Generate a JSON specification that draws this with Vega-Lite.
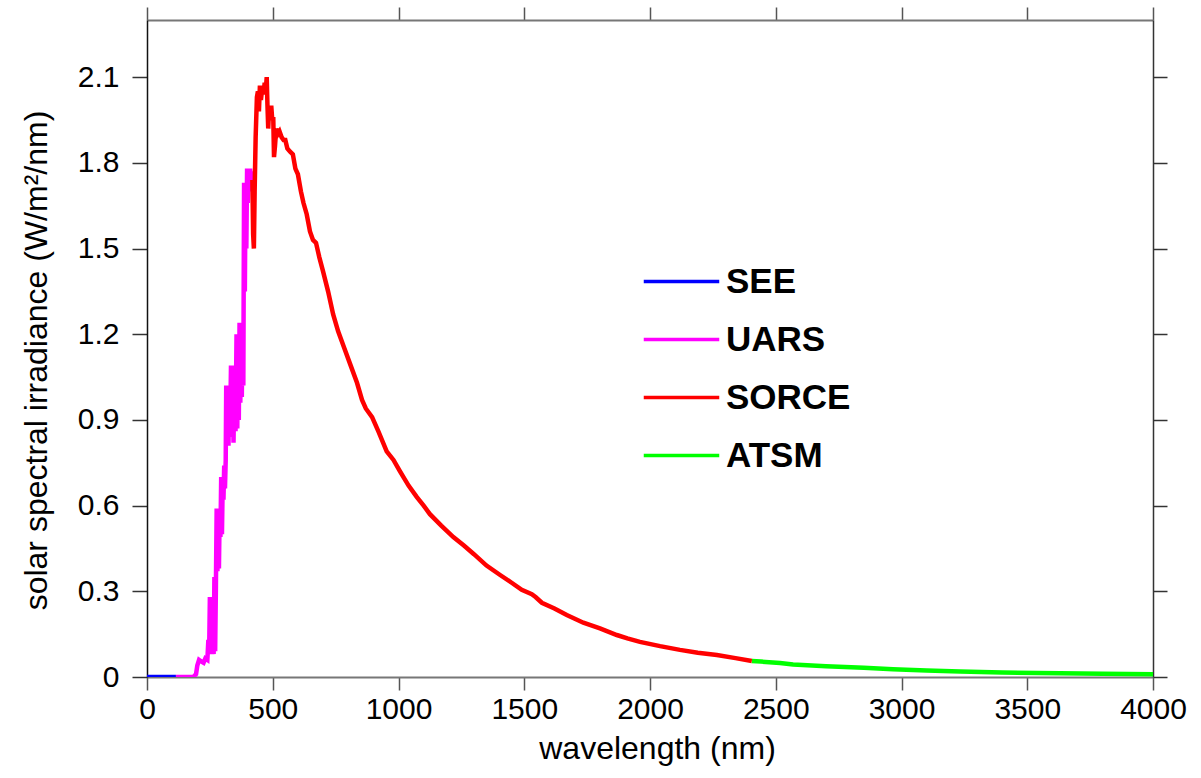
{
  "$schema": "https://vega.github.io/schema/vega-lite/v6.json",
  "autosize": {"type": "none"},
  "width": 1006,
  "height": 657,
  "padding": {"left": 147, "top": 20, "right": 48, "bottom": 101},
  "background": "white",
  "config": {"view": {"stroke": null}},
  "data": {"values": [
    {"w": 0, "v": 0.0, "s": "SEE"}, {"w": 50, "v": 0.0, "s": "SEE"}, {"w": 115, "v": 0.0, "s": "SEE"},
    {"w": 115, "v": 0.0, "s": "UARS"}, {"w": 150, "v": 0.0, "s": "UARS"}, {"w": 185, "v": 0.001, "s": "UARS"}, {"w": 195, "v": 0.01, "s": "UARS"}, {"w": 200, "v": 0.04, "s": "UARS"}, {"w": 207, "v": 0.06, "s": "UARS"}, {"w": 215, "v": 0.055, "s": "UARS"}, {"w": 225, "v": 0.05, "s": "UARS"}, {"w": 232, "v": 0.065, "s": "UARS"}, {"w": 240, "v": 0.06, "s": "UARS"}, {"w": 244, "v": 0.13, "s": "UARS"}, {"w": 247, "v": 0.08, "s": "UARS"}, {"w": 250, "v": 0.28, "s": "UARS"}, {"w": 253, "v": 0.08, "s": "UARS"}, {"w": 256, "v": 0.26, "s": "UARS"}, {"w": 259, "v": 0.09, "s": "UARS"}, {"w": 262, "v": 0.25, "s": "UARS"}, {"w": 265, "v": 0.08, "s": "UARS"}, {"w": 268, "v": 0.35, "s": "UARS"}, {"w": 271, "v": 0.09, "s": "UARS"}, {"w": 274, "v": 0.32, "s": "UARS"}, {"w": 277, "v": 0.59, "s": "UARS"}, {"w": 280, "v": 0.37, "s": "UARS"}, {"w": 283, "v": 0.56, "s": "UARS"}, {"w": 286, "v": 0.38, "s": "UARS"}, {"w": 289, "v": 0.58, "s": "UARS"}, {"w": 292, "v": 0.49, "s": "UARS"}, {"w": 295, "v": 0.70, "s": "UARS"}, {"w": 298, "v": 0.50, "s": "UARS"}, {"w": 301, "v": 0.68, "s": "UARS"}, {"w": 304, "v": 0.62, "s": "UARS"}, {"w": 307, "v": 0.74, "s": "UARS"}, {"w": 310, "v": 0.66, "s": "UARS"}, {"w": 313, "v": 0.76, "s": "UARS"}, {"w": 315, "v": 1.02, "s": "UARS"}, {"w": 318, "v": 0.82, "s": "UARS"}, {"w": 321, "v": 0.98, "s": "UARS"}, {"w": 324, "v": 0.81, "s": "UARS"}, {"w": 327, "v": 1.02, "s": "UARS"}, {"w": 330, "v": 0.85, "s": "UARS"}, {"w": 334, "v": 1.09, "s": "UARS"}, {"w": 337, "v": 0.84, "s": "UARS"}, {"w": 341, "v": 1.06, "s": "UARS"}, {"w": 344, "v": 0.82, "s": "UARS"}, {"w": 348, "v": 1.09, "s": "UARS"}, {"w": 352, "v": 0.86, "s": "UARS"}, {"w": 356, "v": 1.20, "s": "UARS"}, {"w": 359, "v": 0.87, "s": "UARS"}, {"w": 362, "v": 1.18, "s": "UARS"}, {"w": 365, "v": 0.90, "s": "UARS"}, {"w": 368, "v": 1.24, "s": "UARS"}, {"w": 371, "v": 0.96, "s": "UARS"}, {"w": 374, "v": 1.22, "s": "UARS"}, {"w": 377, "v": 0.98, "s": "UARS"}, {"w": 380, "v": 1.24, "s": "UARS"}, {"w": 383, "v": 1.02, "s": "UARS"}, {"w": 386, "v": 1.73, "s": "UARS"}, {"w": 389, "v": 1.35, "s": "UARS"}, {"w": 392, "v": 1.72, "s": "UARS"}, {"w": 395, "v": 1.50, "s": "UARS"}, {"w": 398, "v": 1.78, "s": "UARS"}, {"w": 401, "v": 1.66, "s": "UARS"}, {"w": 404, "v": 1.76, "s": "UARS"}, {"w": 407, "v": 1.70, "s": "UARS"}, {"w": 410, "v": 1.78, "s": "UARS"}, {"w": 413, "v": 1.72, "s": "UARS"}, {"w": 416, "v": 1.77, "s": "UARS"}, {"w": 419, "v": 1.74, "s": "UARS"},
    {"w": 419, "v": 1.74, "s": "SORCE"}, {"w": 422, "v": 1.55, "s": "SORCE"}, {"w": 425, "v": 1.50, "s": "SORCE"}, {"w": 428, "v": 1.70, "s": "SORCE"}, {"w": 432, "v": 1.89, "s": "SORCE"}, {"w": 437, "v": 2.03, "s": "SORCE"}, {"w": 441, "v": 2.05, "s": "SORCE"}, {"w": 445, "v": 1.98, "s": "SORCE"}, {"w": 449, "v": 2.07, "s": "SORCE"}, {"w": 453, "v": 2.02, "s": "SORCE"}, {"w": 458, "v": 2.06, "s": "SORCE"}, {"w": 463, "v": 2.04, "s": "SORCE"}, {"w": 468, "v": 2.08, "s": "SORCE"}, {"w": 472, "v": 2.05, "s": "SORCE"}, {"w": 476, "v": 2.10, "s": "SORCE"}, {"w": 479, "v": 2.00, "s": "SORCE"}, {"w": 482, "v": 1.92, "s": "SORCE"}, {"w": 486, "v": 2.00, "s": "SORCE"}, {"w": 490, "v": 1.97, "s": "SORCE"}, {"w": 494, "v": 2.00, "s": "SORCE"}, {"w": 498, "v": 1.95, "s": "SORCE"}, {"w": 502, "v": 1.96, "s": "SORCE"}, {"w": 505, "v": 1.82, "s": "SORCE"}, {"w": 509, "v": 1.86, "s": "SORCE"}, {"w": 514, "v": 1.92, "s": "SORCE"}, {"w": 520, "v": 1.90, "s": "SORCE"}, {"w": 527, "v": 1.91, "s": "SORCE"}, {"w": 535, "v": 1.89, "s": "SORCE"}, {"w": 543, "v": 1.88, "s": "SORCE"}, {"w": 550, "v": 1.88, "s": "SORCE"}, {"w": 558, "v": 1.85, "s": "SORCE"}, {"w": 568, "v": 1.84, "s": "SORCE"}, {"w": 580, "v": 1.83, "s": "SORCE"}, {"w": 590, "v": 1.78, "s": "SORCE"}, {"w": 600, "v": 1.76, "s": "SORCE"}, {"w": 612, "v": 1.70, "s": "SORCE"}, {"w": 622, "v": 1.66, "s": "SORCE"}, {"w": 635, "v": 1.62, "s": "SORCE"}, {"w": 648, "v": 1.56, "s": "SORCE"}, {"w": 660, "v": 1.53, "s": "SORCE"}, {"w": 672, "v": 1.52, "s": "SORCE"}, {"w": 685, "v": 1.47, "s": "SORCE"}, {"w": 700, "v": 1.42, "s": "SORCE"}, {"w": 720, "v": 1.35, "s": "SORCE"}, {"w": 740, "v": 1.27, "s": "SORCE"}, {"w": 760, "v": 1.21, "s": "SORCE"}, {"w": 785, "v": 1.15, "s": "SORCE"}, {"w": 810, "v": 1.09, "s": "SORCE"}, {"w": 835, "v": 1.03, "s": "SORCE"}, {"w": 855, "v": 0.97, "s": "SORCE"}, {"w": 870, "v": 0.94, "s": "SORCE"}, {"w": 895, "v": 0.91, "s": "SORCE"}, {"w": 920, "v": 0.86, "s": "SORCE"}, {"w": 953, "v": 0.79, "s": "SORCE"}, {"w": 980, "v": 0.76, "s": "SORCE"}, {"w": 1006, "v": 0.72, "s": "SORCE"}, {"w": 1040, "v": 0.67, "s": "SORCE"}, {"w": 1073, "v": 0.63, "s": "SORCE"}, {"w": 1100, "v": 0.60, "s": "SORCE"}, {"w": 1125, "v": 0.57, "s": "SORCE"}, {"w": 1170, "v": 0.53, "s": "SORCE"}, {"w": 1218, "v": 0.49, "s": "SORCE"}, {"w": 1260, "v": 0.46, "s": "SORCE"}, {"w": 1300, "v": 0.43, "s": "SORCE"}, {"w": 1350, "v": 0.39, "s": "SORCE"}, {"w": 1404, "v": 0.357, "s": "SORCE"}, {"w": 1450, "v": 0.33, "s": "SORCE"}, {"w": 1490, "v": 0.305, "s": "SORCE"}, {"w": 1530, "v": 0.29, "s": "SORCE"}, {"w": 1545, "v": 0.28, "s": "SORCE"}, {"w": 1570, "v": 0.26, "s": "SORCE"}, {"w": 1620, "v": 0.24, "s": "SORCE"}, {"w": 1669, "v": 0.217, "s": "SORCE"}, {"w": 1735, "v": 0.19, "s": "SORCE"}, {"w": 1801, "v": 0.17, "s": "SORCE"}, {"w": 1868, "v": 0.147, "s": "SORCE"}, {"w": 1910, "v": 0.135, "s": "SORCE"}, {"w": 1960, "v": 0.123, "s": "SORCE"}, {"w": 2040, "v": 0.108, "s": "SORCE"}, {"w": 2119, "v": 0.095, "s": "SORCE"}, {"w": 2190, "v": 0.085, "s": "SORCE"}, {"w": 2266, "v": 0.077, "s": "SORCE"}, {"w": 2340, "v": 0.066, "s": "SORCE"}, {"w": 2405, "v": 0.056, "s": "SORCE"},
    {"w": 2405, "v": 0.056, "s": "ATSM"}, {"w": 2441, "v": 0.054, "s": "ATSM"}, {"w": 2517, "v": 0.049, "s": "ATSM"}, {"w": 2569, "v": 0.044, "s": "ATSM"}, {"w": 2700, "v": 0.038, "s": "ATSM"}, {"w": 2850, "v": 0.032, "s": "ATSM"}, {"w": 2966, "v": 0.027, "s": "ATSM"}, {"w": 3100, "v": 0.023, "s": "ATSM"}, {"w": 3233, "v": 0.019, "s": "ATSM"}, {"w": 3400, "v": 0.016, "s": "ATSM"}, {"w": 3630, "v": 0.013, "s": "ATSM"}, {"w": 3800, "v": 0.011, "s": "ATSM"}, {"w": 4000, "v": 0.0095, "s": "ATSM"}
  ]},
  "resolve": {"axis": {"x": "independent", "y": "independent"}},
  "layer": [
    {
      "mark": {"type": "line", "strokeWidth": 4.5, "strokeJoin": "miter", "clip": true},
      "encoding": {
        "x": {"field": "w", "type": "quantitative", "scale": {"domain": [0, 4000], "nice": false, "zero": false},
          "axis": {"orient": "bottom", "title": "wavelength (nm)", "values": [0, 500, 1000, 1500, 2000, 2500, 3000, 3500, 4000], "format": "d", "grid": false,
            "labelFlush": false, "labelOverlap": false,
            "domainColor": "#777", "domainWidth": 2, "tickColor": "#555", "tickWidth": 1.5, "tickSize": 13,
            "labelFont": "Liberation Sans", "labelFontSize": 30, "labelColor": "black", "labelPadding": 4,
            "titleFont": "Liberation Sans", "titleFontSize": 32, "titleFontWeight": "normal", "titleColor": "black", "titlePadding": 9, "titleX": 510}},
        "y": {"field": "v", "type": "quantitative", "scale": {"domain": [0, 2.3], "nice": false},
          "axis": {"orient": "left", "title": "solar spectral irradiance (W/m²/nm)", "values": [0, 0.3, 0.6, 0.9, 1.2, 1.5, 1.8, 2.1], "grid": false,
            "labelExpr": "datum.value == 0 ? '0' : format(datum.value, '.1f')", "labelFlush": false,
            "domainColor": "#111", "domainWidth": 1.5, "tickColor": "#333", "tickWidth": 1.5, "tickSize": 15,
            "labelFont": "Liberation Sans", "labelFontSize": 30, "labelColor": "black", "labelPadding": 13,
            "titleFont": "Liberation Sans", "titleFontSize": 32, "titleFontWeight": "normal", "titleColor": "black", "titlePadding": 24, "titleY": 340}},
        "color": {"field": "s", "type": "nominal",
          "scale": {"domain": ["SEE", "UARS", "SORCE", "ATSM"], "range": ["#0000ff", "#ff00ff", "#ff0000", "#00ff00"]},
          "legend": {"orient": "none", "legendX": 495, "legendY": 222, "title": null, "padding": 0,
            "symbolType": "stroke", "symbolSize": 5700, "symbolStrokeWidth": 3.5,
            "labelFont": "Liberation Sans", "labelFontWeight": "bold", "labelFontSize": 35, "labelColor": "black",
            "labelOffset": 5, "rowPadding": -18, "labelLimit": 400}}
      }
    },
    {
      "mark": {"type": "line", "strokeOpacity": 0, "strokeWidth": 0},
      "encoding": {
        "x": {"field": "w", "type": "quantitative",
          "axis": {"orient": "top", "title": null, "labels": false, "values": [0, 500, 1000, 1500, 2000, 2500, 3000, 3500, 4000], "grid": false,
            "domainColor": "#777", "domainWidth": 2, "tickColor": "#555", "tickWidth": 1.5, "tickSize": 13}},
        "y": {"field": "v", "type": "quantitative",
          "axis": {"orient": "right", "title": null, "labels": false, "values": [0, 0.3, 0.6, 0.9, 1.2, 1.5, 1.8, 2.1], "grid": false,
            "domainColor": "#333", "domainWidth": 1.5, "tickColor": "#333", "tickWidth": 1.5, "tickSize": 14}}
      }
    }
  ]
}
